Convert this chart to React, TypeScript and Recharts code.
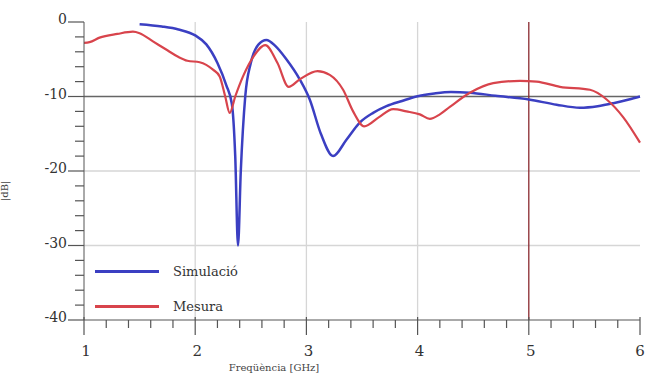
import React from 'react';
import { LineChart, Line, XAxis, YAxis, ReferenceLine } from 'recharts';

const simFreq = [1.5, 1.7, 1.85, 2.0, 2.1, 2.2, 2.28, 2.33, 2.36, 2.385, 2.41, 2.45, 2.5, 2.57, 2.64, 2.72, 2.82, 2.94, 3.03, 3.13, 3.24, 3.36, 3.48, 3.6, 3.72, 3.86, 3.99, 4.15, 4.3, 4.47, 4.7, 5.0, 5.25, 5.46, 5.62, 5.76, 5.9, 6.0];
const simDb = [-0.3, -0.6, -1.0, -1.8, -3.0, -5.5, -8.5, -11, -18, -30, -20, -10, -5.5, -3.0, -2.4, -3.2, -5.0, -7.7, -10.4, -15, -18, -15.8, -13.5, -12.2, -11.3, -10.6, -10, -9.6, -9.4, -9.5, -9.9, -10.4, -11.1, -11.5, -11.3, -10.9, -10.4, -10];

const mesFreq = [1.0, 1.05, 1.14, 1.3, 1.44, 1.5, 1.62, 1.75, 1.85, 1.93, 2.04, 2.16, 2.22, 2.27, 2.31, 2.36, 2.43, 2.53, 2.63, 2.74, 2.84, 2.94, 3.1, 3.21, 3.33, 3.42, 3.52, 3.65, 3.78, 3.9, 4.02, 4.11, 4.2, 4.29, 4.47, 4.68, 4.92, 5.07, 5.28, 5.55, 5.7, 5.85, 6.0];
const mesDb = [-2.8, -2.7, -2.1, -1.6, -1.3, -1.5, -2.6, -3.8, -4.7, -5.2, -5.4, -6.4, -7.3, -10, -12.2, -10, -7.3, -4.5, -3.1, -5.5, -8.7, -7.7, -6.6, -7.1, -9.1, -12, -14, -12.8, -11.7, -12, -12.4, -13, -12.4, -11.4, -9.5, -8.2, -7.9, -8.0, -8.7, -9.1, -10.4, -12.8, -16.2];

const xTicks = [1, 1.2, 1.4, 1.6, 1.8, 2, 2.2, 2.4, 2.6, 2.8, 3, 3.2, 3.4, 3.6, 3.8, 4, 4.2, 4.4, 4.6, 4.8, 5, 5.2, 5.4, 5.6, 5.8, 6];
const yTicks = [-40, -38, -36, -34, -32, -30, -28, -26, -24, -22, -20, -18, -16, -14, -12, -10, -8, -6, -4, -2, 0];
const xGrid = [2, 3, 4];
const yGrid = [-20, -30];

const seriesNames = ['Simulació', 'Mesura'];
const seriesColors = ['#3b3fc2', '#d8444c'];

const simData = simFreq.map((f, i) => ({ f, db: simDb[i] }));
const mesData = mesFreq.map((f, i) => ({ f, db: mesDb[i] }));

const FONT = '"DejaVu Serif", serif';
const AXIS = '#555';

const XTick = (props: any) => {
  const { x, y, payload } = props;
  const major = Number.isInteger(payload.value);
  return (
    <g>
      <line x1={x} x2={x} y1={major ? y - 3 : y} y2={y + (major ? 15 : 8)} stroke={AXIS} strokeWidth={1.2} />
      {major && (
        <text x={payload.value === 6 ? x : x + 2} y={y + 36} textAnchor="middle" fontFamily={FONT} fontSize={15} fill="#333">
          {payload.value}
        </text>
      )}
    </g>
  );
};

const YTick = (props: any) => {
  const { x, y, payload } = props;
  const major = payload.value % 10 === 0;
  return (
    <g>
      <line x1={x - (major ? 16 : 9)} x2={x} y1={y} y2={y} stroke={AXIS} strokeWidth={1.2} />
      {major && (
        <text x={x - 17} y={y + 2} textAnchor="end" fontFamily={FONT} fontSize={14} fill="#333">
          {payload.value}
        </text>
      )}
    </g>
  );
};

export default function App() {
  return (
    <div style={{ position: 'fixed', left: 0, top: 0, width: 645, height: 376, background: '#fff' }}>
      <LineChart width={645} height={376} margin={{ top: 22, right: 5, left: 0, bottom: 0 }}>
        {xGrid.map((v) => (
          <ReferenceLine key={'x' + v} x={v} stroke="#d6d6d6" strokeWidth={1.3} />
        ))}
        {yGrid.map((v) => (
          <ReferenceLine key={'y' + v} y={v} stroke="#d6d6d6" strokeWidth={1.3} />
        ))}
        <ReferenceLine y={-10} stroke="#666" strokeWidth={1.5} />
        <ReferenceLine x={5} stroke="#8a2a30" strokeWidth={1.3} />
        <XAxis
          type="number"
          dataKey="f"
          domain={[1, 6]}
          ticks={xTicks}
          interval={0}
          height={56}
          tickSize={0}
          tickMargin={0}
          tickLine={false}
          tick={<XTick />}
          stroke={AXIS}
          allowDuplicatedCategory={false}
          label={{ value: 'Freqüència [GHz]', position: 'insideBottom', offset: 0, dx: -88, dy: -5, fontFamily: FONT, fontSize: 10, fill: '#444' }}
        />
        <YAxis
          type="number"
          domain={[-40, 0]}
          ticks={yTicks}
          interval={0}
          width={84}
          tickSize={0}
          tickMargin={0}
          tickLine={false}
          tick={<YTick />}
          stroke={AXIS}
          label={{ value: '|dB|', angle: -90, position: 'insideLeft', offset: 4, dy: 30, fontFamily: FONT, fontSize: 10, fill: '#444' }}
        />
        <Line data={simData} dataKey="db" name={seriesNames[0]} type="monotone" stroke={seriesColors[0]} strokeWidth={2.5} dot={false} isAnimationActive={false} />
        <Line data={mesData} dataKey="db" name={seriesNames[1]} type="monotone" stroke={seriesColors[1]} strokeWidth={2.2} dot={false} isAnimationActive={false} />
      </LineChart>
      <div style={{ position: 'absolute', left: 95, top: 254, fontFamily: FONT, fontSize: 13, color: '#333' }}>
        {seriesNames.map((n, i) => (
          <div key={n} style={{ display: 'flex', alignItems: 'center', height: 35 }}>
            <div style={{ width: 64, height: 3, background: seriesColors[i], marginRight: 14 }} />
            <span>{n}</span>
          </div>
        ))}
      </div>
    </div>
  );
}
